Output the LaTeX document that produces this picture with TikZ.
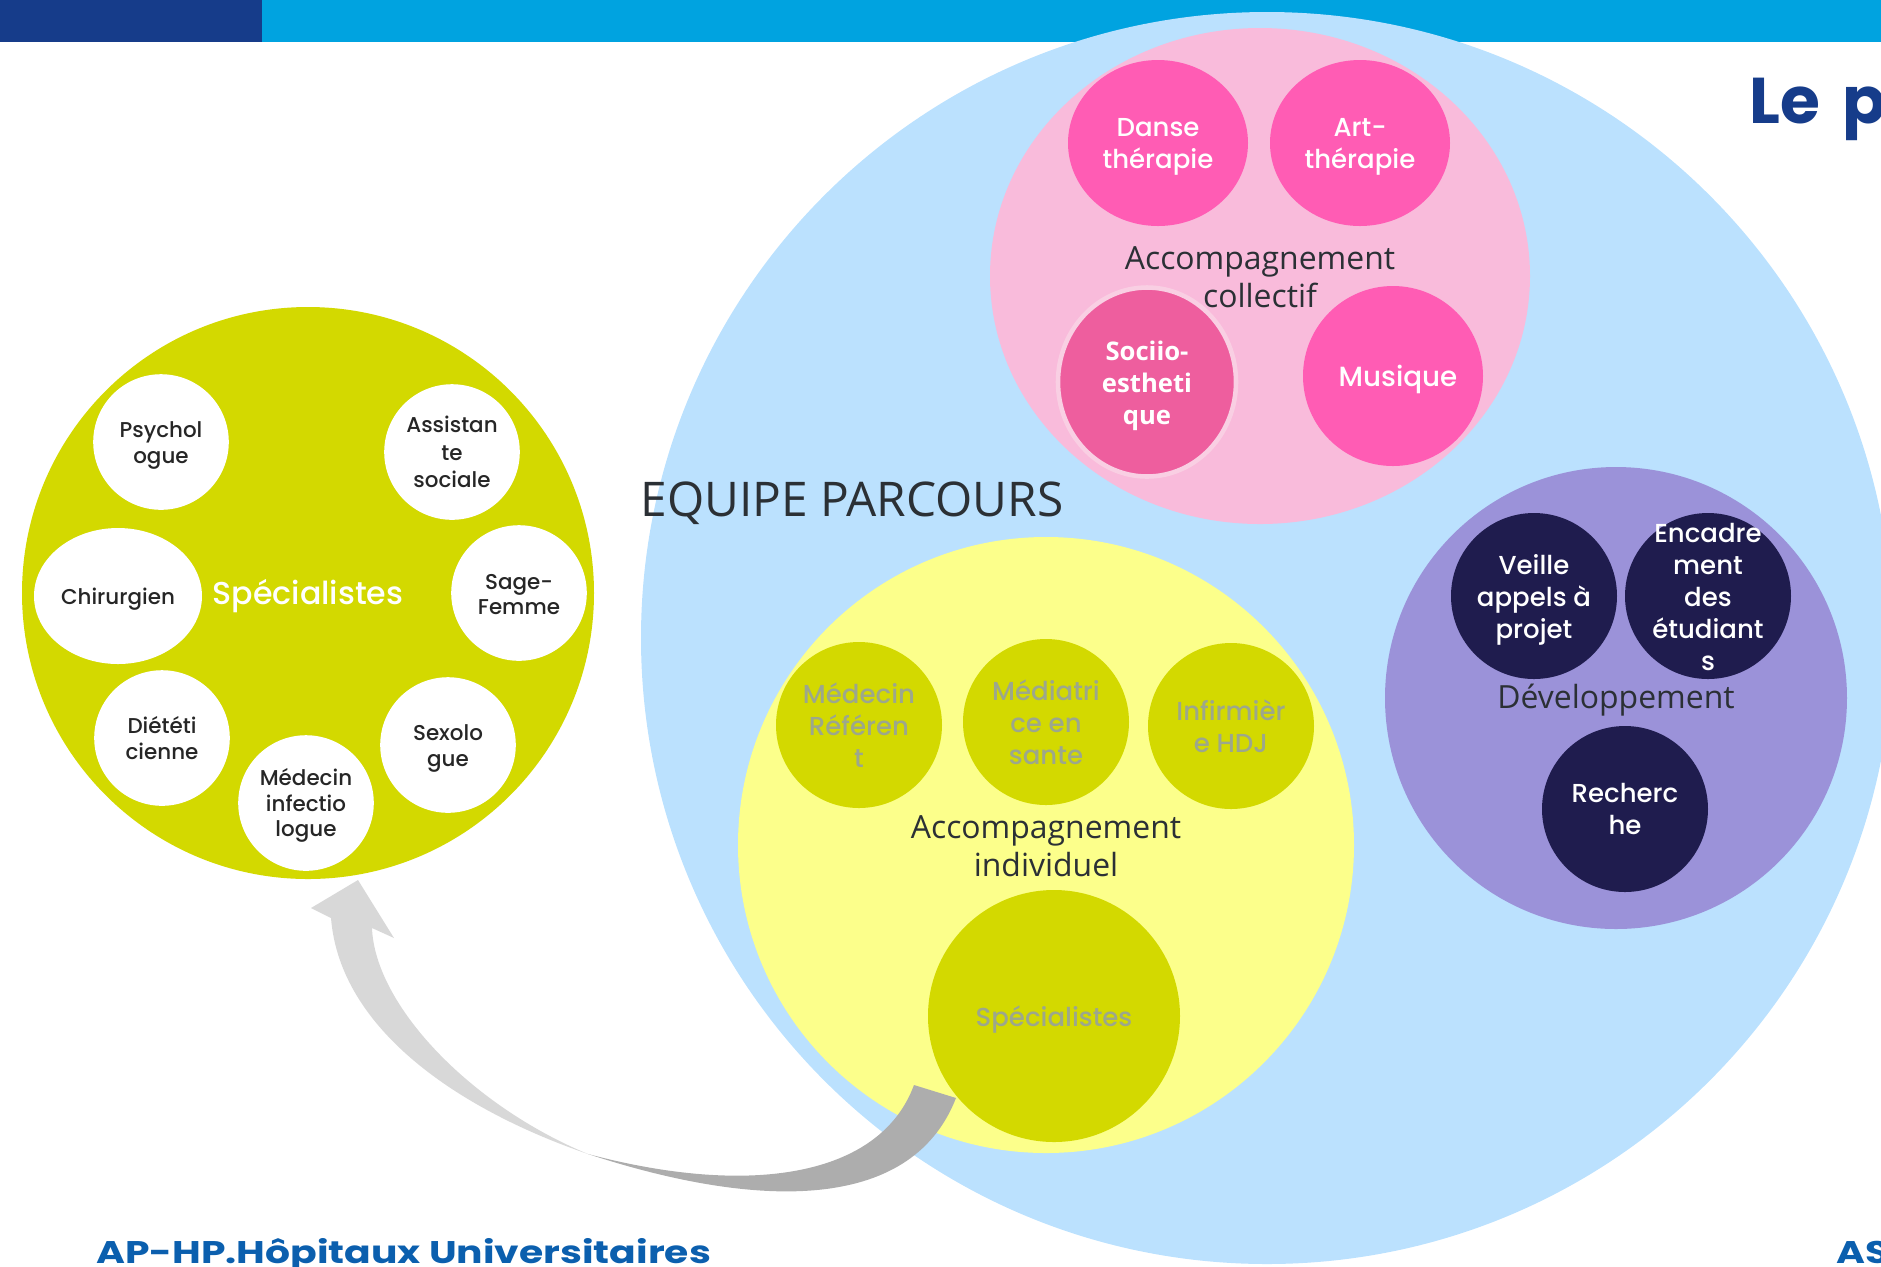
\documentclass[tikz,border=0pt]{standalone}
\usepackage{fontspec}
\setmainfont{Open Sans}
\newfontfamily\montfont[UprightFont={* Medium},BoldFont={* Bold}]{Poppins}
\newfontfamily\footfont[FakeStretch=1.255,UprightFont={* Bold}]{Poppins}
\usetikzlibrary{shapes.geometric}
\definecolor{barcyan}{HTML}{00A3E0}
\definecolor{barnavy}{HTML}{163C8A}
\definecolor{bigblue}{HTML}{BBE1FE}
\definecolor{softpink}{HTML}{F9BBDB}
\definecolor{hotpink}{HTML}{FF5CB4}
\definecolor{sociopink}{HTML}{EE5E9E}
\definecolor{sociorim}{HTML}{F9CFE3}
\definecolor{softpurple}{HTML}{9B92D9}
\definecolor{deepnavy}{HTML}{1F1C4E}
\definecolor{softyellow}{HTML}{FCFF8B}
\definecolor{olive}{HTML}{D3D900}
\definecolor{olivetext}{HTML}{9CA78C}
\definecolor{darktext}{HTML}{2B3035}
\definecolor{footblue}{HTML}{0B5FAE}
\definecolor{arrowlight}{HTML}{D8D8D8}
\definecolor{arrowdark}{HTML}{ADADAD}
\tikzset{
  blob/.style={ellipse,inner sep=0pt,draw=none},
  low/.style={yshift=-0.036cm},
  onwhite/.style={align=center,font=\montfont\fontsize{7.4}{9.1}\selectfont,text=white},
  onolive/.style={align=center,font=\montfont\fontsize{7.4}{9.1}\selectfont,text=olivetext},
  onsmall/.style={align=center,font=\montfont\fontsize{6.1}{7.2}\selectfont,text=black!85},
  heading/.style={align=center,font=\fontsize{9.08}{10.8}\selectfont,text=darktext},
  whitedot/.style={blob,fill=white,minimum width=1.356cm,minimum height=1.356cm},
  pinkdot/.style={blob,fill=hotpink},
  navydot/.style={blob,fill=deepnavy,minimum width=1.66cm,minimum height=1.66cm},
  olivedot/.style={blob,fill=olive,minimum width=1.66cm,minimum height=1.66cm},
}
\begin{document}
\begin{tikzpicture}[x=1cm,y=-1cm]
\useasboundingbox (0,0) rectangle (18.81,12.66);
\clip (0,0) rectangle (18.81,12.66);
\fill[barcyan] (0,0) rectangle (18.81,0.42);
\fill[barnavy] (0,0) rectangle (2.62,0.42);
\node[font=\montfont\bfseries\fontsize{18.4}{22}\selectfont,text=barnavy,anchor=base west] (title) at (17.37,1.23) {Le\hspace{2.5pt} p};
\node[font=\footfont\fontsize{8.9}{10}\selectfont,text=footblue,anchor=base west] (footleft) at (0.84,12.63) {AP-HP.Hôpitaux Universitaires};
\node[font=\footfont\fontsize{8.9}{10}\selectfont,text=footblue,anchor=base west] (footright) at (18.24,12.63) {AS};
% big circles
\node[blob,fill=bigblue,minimum width=12.52cm,minimum height=12.52cm] (parcours) at (12.67,6.38) {};
\node[blob,fill=softpink,minimum width=5.4cm,minimum height=4.96cm] (collectif) at (12.60,2.76) {};
\node[blob,fill=softpurple,minimum width=4.62cm,minimum height=4.62cm] (dev) at (16.16,6.98) {};
\node[blob,fill=softyellow,minimum width=6.16cm,minimum height=6.16cm] (individuel) at (10.46,8.45) {};
\node[blob,fill=olive,minimum width=5.72cm,minimum height=5.72cm] (specs) at (3.08,5.93) {};
\node[heading,font=\fontsize{13.6}{15}\selectfont] (equipe) at (8.52,5.03) {EQUIPE PARCOURS};
\node[heading] (collectif-t) at (12.60,2.77) {Accompagnement\\collectif};
\node[heading] (dev-t) at (16.16,7.00) {Développement};
\node[heading] (individuel-t) at (10.46,8.46) {Accompagnement\\individuel};
% accompagnement collectif
\node[pinkdot,minimum width=1.8cm,minimum height=1.66cm,label={[onwhite,low]center:Danse\\thérapie}] (danse) at (11.58,1.43) {};
\node[pinkdot,minimum width=1.8cm,minimum height=1.66cm,label={[onwhite,low]center:Art-\\thérapie}] (art) at (13.60,1.43) {};
\node[blob,fill=sociopink,draw=sociorim,line width=1.3pt,minimum width=1.78cm,minimum height=1.89cm,
  label={[align=center,low,font=\bfseries\fontsize{7.3}{9.1}\selectfont,text=white]center:Sociio-\\estheti\\que}] (socio) at (11.47,3.82) {};
\node[pinkdot,minimum width=1.8cm,minimum height=1.8cm,label={[onwhite,low,xshift=0.05cm,font=\montfont\fontsize{7.9}{9.1}\selectfont]center:Musique}] (musique) at (13.93,3.76) {};
% developpement
\node[navydot,label={[onwhite,low]center:Veille\\appels à\\projet}] (veille) at (15.34,5.96) {};
\node[navydot,label={[onwhite,yshift=-0.012cm]center:Encadre\\ment\\des\\étudiant\\s}] (encadre) at (17.08,5.96) {};
\node[navydot,label={[onwhite]center:Recherc\\he}] (recherche) at (16.25,8.09) {};
% accompagnement individuel
\node[olivedot,label={[onolive]center:Médecin\\Référen\\t}] (referent) at (8.59,7.25) {};
\node[olivedot,label={[onolive]center:Médiatri\\ce en\\sante}] (mediatrice) at (10.46,7.22) {};
\node[olivedot,label={[onolive]center:Infirmièr\\e HDJ}] (infirmiere) at (12.31,7.26) {};
\node[blob,fill=olive,minimum width=2.52cm,minimum height=2.52cm,label={[onolive,low]center:Spécialistes}] (inner) at (10.54,10.16) {};
% specialistes
\node[font=\montfont\fontsize{9}{11}\selectfont,text=white] (specs-t) at (3.08,5.96) {Spécialistes};
\node[whitedot,label={[onsmall,low]center:Psychol\\ogue}] (psy) at (1.61,4.42) {};
\node[whitedot,label={[onsmall]center:Assistan\\[0.6pt]te\\[0.6pt]sociale}] (assist) at (4.52,4.52) {};
\node[blob,fill=white,minimum width=1.68cm,minimum height=1.36cm,label={[onsmall,low]center:Chirurgien}] (chir) at (1.18,5.96) {};
\node[whitedot,label={[onsmall,yshift=-0.012cm]center:Sage-\\Femme}] (sage) at (5.19,5.93) {};
\node[whitedot,label={[onsmall]center:Diététi\\cienne}] (diet) at (1.62,7.38) {};
\node[whitedot,label={[onsmall,low]center:Sexolo\\gue}] (sexo) at (4.48,7.45) {};
\node[whitedot,label={[onsmall,yshift=-0.024cm]center:Médecin\\infectio\\logue}] (infectio) at (3.06,8.03) {};
% fleche
\coordinate (tip) at (3.58,8.80);
\coordinate (barbl) at (3.11,9.08);
\coordinate (neckl) at (3.31,9.18);
\coordinate (barbr) at (3.94,9.38);
\coordinate (neckr) at (3.72,9.28);
\coordinate (twist) at (5.88,11.54);
\coordinate (endin) at (9.14,10.85);
\coordinate (endout) at (9.56,10.98);
\fill[arrowlight] (tip) -- (barbr) -- (neckr) .. controls (3.75,10.05) and (4.70,11.05) .. (twist)
  .. controls (4.60,11.10) and (3.40,10.30) .. (neckl) -- (barbl) -- cycle;
\fill[arrowdark] (twist) .. controls (7.50,11.97) and (8.80,11.77) .. (endin) -- (endout)
  .. controls (9.10,12.16) and (7.50,12.07) .. (twist) -- cycle;
\end{tikzpicture}
\end{document}
